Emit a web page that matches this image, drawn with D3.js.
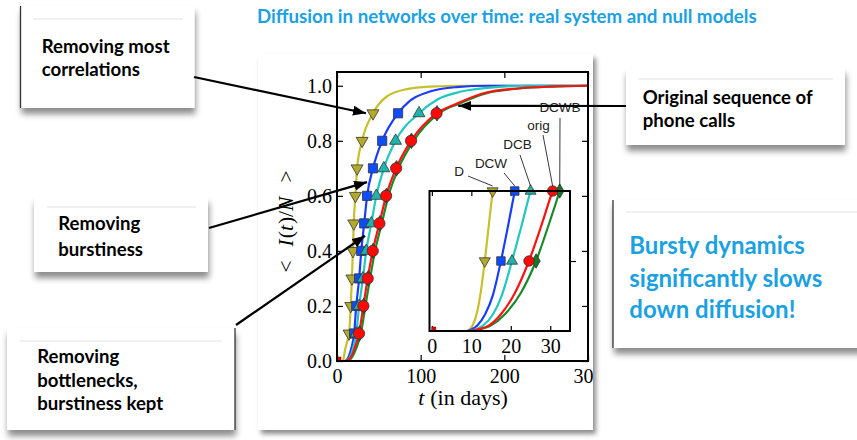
<!DOCTYPE html>
<html><head><meta charset="utf-8">
<script src="https://cdn.jsdelivr.net/npm/d3@7"></script>
<style>html,body{margin:0;padding:0;background:#fff;overflow:hidden}svg{display:block}</style>
</head><body>
<svg id="c" width="857" height="440"></svg>
<script>
// ---------------- data ----------------
const levels = [0.1,0.2,0.3,0.4,0.5,0.6,0.7,0.8,0.9];
// times (days) at which each curve reaches the marker levels
const markD    = [14.4,16.4,17.8,19,20,22,24,30,43];
const markDCW  = [20.5,23,26.5,29,32.5,36,43,54,73];
const markDCB  = [23,26.5,31,35,41,47,56,70,98];
const markDCWB = [26.8,32,37.2,43.2,51.2,59.2,71.2,89,119.5];
const markOrig = [26.3,31.5,36.7,42.7,50.7,58.7,70.7,88.5,119];

// main curves
const curveD_t    = [0,7,9.6,12,14.4,16.4,17.8,19,20,22,24,30,43,59.5,83.5,111,150,300];
const curveD_y    = [0,0,0.04,0.07,0.1,0.2,0.3,0.4,0.5,0.6,0.7,0.8,0.9,0.961,0.988,0.997,1,1];
const curveDCW_t  = [0,9,13,17,20.5,23,26.5,29,32.5,36,43,54,73,87,111,143,180,300];
const curveDCW_y  = [0,0,0.01,0.045,0.1,0.2,0.3,0.4,0.5,0.6,0.7,0.8,0.9,0.945,0.979,0.995,1,1];
const curveDCB_t  = [0,10,15,19.5,23,26.5,31,35,41,47,56,70,98,120,150,190,230,300];
const curveDCB_y  = [0,0,0.012,0.05,0.1,0.2,0.3,0.4,0.5,0.6,0.7,0.8,0.9,0.95,0.98,0.995,1,1];
const curveDCWB_t = [0,11,17.5,23.5,28.5,34,39.5,45.5,53.5,61.5,73.5,91.5,122,146,178,218,258,300];
const curveDCWB_y = [0,0,0.012,0.05,0.1,0.2,0.3,0.4,0.5,0.6,0.7,0.8,0.9,0.935,0.972,0.99,0.997,1];
const curveOrig_t = [0,10,16,21.5,26.3,31.5,36.7,42.7,50.7,58.7,70.7,88.5,119,143,175,215,255,300];
const curveOrig_y = [0,0,0.012,0.05,0.1,0.2,0.3,0.4,0.5,0.6,0.7,0.8,0.9,0.935,0.973,0.99,0.997,1];

// inset (early times)
const insetLevels = [0.05,0.1];
const insetMarkD    = [13.4,15.4];
const insetMarkDCW  = [17.5,21];
const insetMarkDCB  = [20.3,25];
const insetMarkDCWB = [26.4,32.4];
const insetMarkOrig = [24.6,30.6];
const insetD_t    = [-0.6,8.5,9.5,10.5,11.5,12.4,13.4,14.4,15.4,16.2];
const insetD_y    = [0,0,0.001,0.005,0.014,0.028,0.05,0.075,0.1,0.12];
const insetDCW_t  = [-0.6,9,10,11.5,13.5,15.5,17.5,19.3,21,22];
const insetDCW_y  = [0,0,0.001,0.004,0.012,0.026,0.05,0.075,0.1,0.115];
const insetDCB_t  = [-0.6,9.5,11,13,15.5,17.8,20.3,22.7,25,26];
const insetDCB_y  = [0,0,0.001,0.004,0.012,0.026,0.05,0.075,0.1,0.11];
const insetDCWB_t = [-0.6,10,12,15,18.5,22.5,26.4,29.5,32.4,33.5];
const insetDCWB_y = [0,0,0.001,0.004,0.012,0.027,0.05,0.075,0.1,0.11];
const insetOrig_t = [-0.6,9.5,11.5,14.5,17.5,21,24.6,27.7,30.6,32];
const insetOrig_y = [0,0,0.001,0.004,0.012,0.027,0.05,0.075,0.1,0.11];

const xTicks = [0,100,200,300];
const yTicks = [0,0.2,0.4,0.6,0.8,1.0];
const insetXTicks = [0,10,20,30];
const insetYTicks = [0.05];

const title = "Diffusion in networks over time: real system and null models";
const xLabel = "(in days)";

// ---------------- styles ----------------
const series = [
  {name:"D",    mark:markD,    ct:curveD_t,    cy:curveD_y,    it:insetD_t,    iy:insetD_y,    im:insetMarkD,    line:"#c8bf2c", fill:"#b3aa2a", sym:"tridown"},
  {name:"DCW",  mark:markDCW,  ct:curveDCW_t,  cy:curveDCW_y,  it:insetDCW_t,  iy:insetDCW_y,  im:insetMarkDCW,  line:"#1a3cff", fill:"#0d4dff", sym:"square"},
  {name:"DCB",  mark:markDCB,  ct:curveDCB_t,  cy:curveDCB_y,  it:insetDCB_t,  iy:insetDCB_y,  im:insetMarkDCB,  line:"#22c8c0", fill:"#1fb3ab", sym:"triup"},
  {name:"DCWB", mark:markDCWB, ct:curveDCWB_t, cy:curveDCWB_y, it:insetDCWB_t, iy:insetDCWB_y, im:insetMarkDCWB, line:"#188a2a", fill:"#137a24", sym:"diamond"},
  {name:"orig", mark:markOrig, ct:curveOrig_t, cy:curveOrig_y, it:insetOrig_t, iy:insetOrig_y, im:insetMarkOrig, line:"#ff1212", fill:"#ff0808", sym:"circle"}
];

const svg = d3.select("#c");
const defs = svg.append("defs");
defs.append("filter").attr("id","cardShadow").attr("x","-10%").attr("y","-10%").attr("width","130%").attr("height","130%")
  .append("feDropShadow").attr("dx",3).attr("dy",4).attr("stdDeviation",2.5).attr("flood-color","#000").attr("flood-opacity",0.45);
defs.append("filter").attr("id","boxShadow").attr("x","-10%").attr("y","-10%").attr("width","130%").attr("height","140%")
  .append("feDropShadow").attr("dx",1).attr("dy",6).attr("stdDeviation",3).attr("flood-color","#000").attr("flood-opacity",0.45);
defs.append("clipPath").attr("id","cardClip").append("rect").attr("x",258).attr("y",54).attr("width",335).attr("height",376);
defs.append("clipPath").attr("id","plotClip").append("rect").attr("x",337).attr("y",72).attr("width",251).attr("height",289);
defs.append("clipPath").attr("id","insetClip").append("rect").attr("x",429.5).attr("y",191).attr("width",140.5).attr("height",140);
defs.append("marker").attr("id","arrow").attr("markerUnits","userSpaceOnUse")
  .attr("markerWidth",14).attr("markerHeight",10).attr("refX",13).attr("refY",5).attr("orient","auto")
  .append("path").attr("d","M0,0 L13,5 L0,10 z").attr("fill","#000");

const sans = "Lato, 'Open Sans', sans-serif";
const serif = "'Liberation Serif', 'DejaVu Serif', serif";

// ---------------- title ----------------
function fitText(sel, target){
  sel.attr("font-size",100);
  const w = sel.node().getComputedTextLength();
  return 100*target/w;
}
const t0 = svg.append("text").attr("x",257).attr("y",23).attr("font-family",sans).attr("font-weight",700)
  .attr("fill","#1ba1e2").text(title);
t0.attr("font-size", fitText(t0, 500));

// ---------------- callout boxes ----------------
const boxes = [
  {x:20.5, y:6,   w:174, h:102, lines:["Removing most","correlations"], tx:41.7, bl:[53,76], fitIdx:0, fitW:128, color:"#000", edge:"left", rule:[33,19,183]},
  {x:34,   y:197, w:174, h:75,  lines:["Removing","burstiness"], tx:58.3, bl:[230,256], fitIdx:0, fitW:82, color:"#000", edge:null, rule:[47,207,196]},
  {x:7,    y:328, w:228, h:102, lines:["Removing","bottlenecks,","burstiness kept"], tx:37.3, bl:[363,387,410], fitIdx:2, fitW:126, color:"#000", edge:"right", rule:[20,341,222]},
  {x:626,  y:68,  w:219, h:77,  lines:["Original sequence of","phone calls"], tx:642.7, bl:[104,127], fitIdx:0, fitW:170, color:"#000", edge:null, rule:[638,79,833]},
  {x:613,  y:200, w:250, h:148, lines:["Bursty dynamics","significantly slows","down diffusion!"], tx:629.3, bl:[254,287,318], fitIdx:1, fitW:193, color:"#1ba1e2", edge:"left", rule:[626,212,857]}
];
boxes.forEach(b => {
  const g = svg.append("g");
  g.append("rect").attr("x",b.x).attr("y",b.y).attr("width",b.w).attr("height",b.h)
    .attr("fill","#fff").attr("filter","url(#boxShadow)");
  g.append("line").attr("x1",b.rule[0]).attr("x2",b.rule[2]).attr("y1",b.rule[1]).attr("y2",b.rule[1])
    .attr("stroke","#e2e2e2").attr("stroke-width",1);
  if (b.edge){
    const ex = b.edge==="left" ? b.x : b.x+b.w;
    g.append("line").attr("x1",ex).attr("x2",ex).attr("y1",b.y).attr("y2",b.y+b.h).attr("stroke","#333").attr("stroke-width",1.3);
  }
  const probe = g.append("text").attr("font-family",sans).attr("font-weight",700).text(b.lines[b.fitIdx]);
  const fs = fitText(probe, b.fitW);
  probe.remove();
  b.lines.forEach((ln,i)=>{
    g.append("text").attr("x",b.tx).attr("y",b.bl[i]).attr("font-family",sans).attr("font-weight",700)
      .attr("font-size",fs).attr("fill",b.color).text(ln);
  });
});

// ---------------- chart card ----------------
svg.append("rect").attr("x",258).attr("y",54).attr("width",335).attr("height",376).attr("fill","#fff")
  .attr("filter","url(#cardShadow)");
const card = svg.append("g").attr("clip-path","url(#cardClip)");

const x = d3.scaleLinear().domain([0,300]).range([337,588]);
const y = d3.scaleLinear().domain([0,1.05]).range([361,72]);

// axes
const axFont = g => g.attr("font-family",serif).attr("font-size",20).call(s=>s.select(".domain").remove())
  .call(s=>s.selectAll(".tick line").attr("stroke","#000").attr("stroke-width",1.2))
  .call(s=>s.selectAll(".tick text").attr("fill","#000"));
card.append("g").attr("transform","translate(0,361)")
  .call(d3.axisBottom(x).tickValues(xTicks).tickSize(-6).tickPadding(8).tickFormat(d3.format("d"))).call(axFont);
card.append("g").attr("transform","translate(0,72)")
  .call(d3.axisTop(x).tickValues(xTicks).tickSize(-6).tickFormat("")).call(axFont);
card.append("g").attr("transform","translate(337,0)")
  .call(d3.axisLeft(y).tickValues(yTicks).tickSize(-6).tickPadding(5).tickFormat(d3.format(".1f"))).call(axFont);
card.append("g").attr("transform","translate(588,0)")
  .call(d3.axisRight(y).tickValues(yTicks).tickSize(-6).tickFormat("")).call(axFont);

// axis titles
const xl = card.append("text").attr("x",463).attr("y",405).attr("text-anchor","middle")
  .attr("font-family",serif).attr("font-size",22).attr("fill","#000");
xl.append("tspan").attr("font-style","italic").text("t");
xl.append("tspan").attr("dx",6).text(xLabel);
const yl = card.append("text").attr("transform","translate(293,221.5) rotate(-90)").attr("text-anchor","middle")
  .attr("font-family",serif).attr("font-size",21.5).attr("fill","#000");
yl.append("tspan").text("<");
yl.append("tspan").attr("dx",14).attr("font-style","italic").text("I");
yl.append("tspan").attr("dx",1).text("(");
yl.append("tspan").attr("font-style","italic").text("t");
yl.append("tspan").attr("dx",1).text(")/");
yl.append("tspan").attr("font-style","italic").text("N");
yl.append("tspan").attr("dx",14).text(">");

// symbols
function symPath(kind, scale){
  const s = scale||1;
  if (kind==="tridown") return {d:d3.symbol(d3.symbolTriangle, 62*s)(), rot:180};
  if (kind==="triup") return {d:d3.symbol(d3.symbolTriangle, 62*s)(), rot:0};
  if (kind==="square") return {d:d3.symbol(d3.symbolSquare, 85*s)(), rot:0};
  if (kind==="diamond") return {d:d3.symbol(d3.symbolDiamond, 70*s)(), rot:0};
  return {d:d3.symbol(d3.symbolCircle, 100*s)(), rot:0};
}

// main curves
const plot = card.append("g").attr("clip-path","url(#plotClip)");
const lineGen = d3.line().curve(d3.curveMonotoneX);
series.forEach(s=>{
  const pts = s.ct.map((t,i)=>[x(t), y(s.cy[i])]);
  plot.append("path").attr("d", lineGen(pts)).attr("fill","none").attr("stroke",s.line).attr("stroke-width",2.2);
});
// origin marker
card.append("rect").attr("x",x(0)).attr("y",y(0)-4).attr("width",4).attr("height",4).attr("fill","#e00").attr("stroke","#600").attr("stroke-width",0.5);
series.forEach(s=>{
  const sp = symPath(s.sym);
  card.append("g").selectAll("path").data(s.mark).join("path")
    .attr("d",sp.d).attr("transform",(t,i)=>`translate(${x(t)},${y(levels[i])}) rotate(${sp.rot})`)
    .attr("fill",s.fill).attr("stroke","#333").attr("stroke-width",0.8);
});
// frame
card.append("rect").attr("x",337).attr("y",72).attr("width",251).attr("height",289)
  .attr("fill","none").attr("stroke","#000").attr("stroke-width",2);

// ---------------- inset ----------------
const xi = d3.scaleLinear().domain([-0.6,35]).range([429.5,570]);
const yi = d3.scaleLinear().domain([0,0.1]).range([331,191]);
card.append("rect").attr("x",429.5).attr("y",191).attr("width",140.5).attr("height",140).attr("fill","#fff");
card.append("g").attr("transform","translate(0,331)")
  .call(d3.axisBottom(xi).tickValues(insetXTicks).tickSize(-5).tickPadding(8).tickFormat(d3.format("d"))).call(axFont);
card.append("g").attr("transform","translate(0,191)")
  .call(d3.axisTop(xi).tickValues(insetXTicks).tickSize(-5).tickFormat("")).call(axFont);
card.append("g").attr("transform","translate(570,0)")
  .call(d3.axisRight(yi).tickValues(insetYTicks).tickSize(6).tickFormat("")).call(axFont);
const ins = card.append("g").attr("clip-path","url(#insetClip)");
series.forEach(s=>{
  const pts = s.it.map((t,i)=>[xi(t), yi(s.iy[i])]);
  ins.append("path").attr("d", lineGen(pts)).attr("fill","none").attr("stroke",s.line).attr("stroke-width",2.2);
});
card.append("rect").attr("x",xi(0)).attr("y",yi(0)-4).attr("width",4).attr("height",4).attr("fill","#e00").attr("stroke","#600").attr("stroke-width",0.5);
series.forEach(s=>{
  const sp = symPath(s.sym, 0.85);
  card.append("g").selectAll("path").data(s.im).join("path")
    .attr("d",sp.d).attr("transform",(t,i)=>`translate(${xi(t)},${yi(insetLevels[i])}) rotate(${sp.rot})`)
    .attr("fill",s.fill).attr("stroke","#333").attr("stroke-width",0.8);
});
card.append("rect").attr("x",429.5).attr("y",191).attr("width",140.5).attr("height",140)
  .attr("fill","none").attr("stroke","#000").attr("stroke-width",2);

// inset series labels with leader lines
const insetLabels = [
  {name:"D",    tx:459, ty:176, lx:468, ly:176},
  {name:"DCW",  tx:491, ty:168, lx:504, ly:173},
  {name:"DCB",  tx:517.5, ty:149, lx:520, ly:155},
  {name:"orig", tx:538.5, ty:130, lx:543, ly:135},
  {name:"DCWB", tx:560, ty:112, lx:560, ly:118}
];
insetLabels.forEach(l=>{
  const s = series.find(q=>q.name===l.name);
  card.append("line").attr("x1",l.lx).attr("y1",l.ly).attr("x2",xi(s.im[1])).attr("y2",yi(insetLevels[1])-5)
    .attr("stroke","#222").attr("stroke-width",0.9);
  card.append("text").attr("x",l.tx).attr("y",l.ty).attr("text-anchor","middle")
    .attr("font-family","'Liberation Sans', Arial, sans-serif").attr("font-size",13.5).attr("fill","#222").text(l.name);
});

// ---------------- arrows ----------------
const arrows = [
  [194, 77,  x(markD[8])-7, y(levels[8])],
  [209, 228, x(36),  y(0.65)],
  [236, 325, x(33.5), y(0.455)],
  [626, 106, x(145), y(0.927)]
];
arrows.forEach(a=>{
  svg.append("line").attr("x1",a[0]).attr("y1",a[1]).attr("x2",a[2]).attr("y2",a[3])
    .attr("stroke","#000").attr("stroke-width",2.2).attr("marker-end","url(#arrow)");
});
</script>
</body></html>
